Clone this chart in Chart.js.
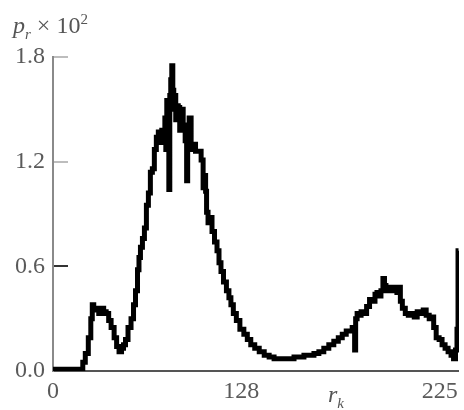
<!DOCTYPE html>
<html>
<head>
<meta charset="utf-8">
<script src="https://cdn.jsdelivr.net/npm/chart.js@4/dist/chart.umd.min.js"></script>
<style>
  html, body { margin: 0; padding: 0; background: #fff; }
  #wrap { position: relative; width: 464px; height: 410px; }
  canvas { position: absolute; left: 0; top: 0; }
  .lbl { position: absolute; font-family: 'Liberation Serif', serif; font-size: 24px; line-height: 24px; color: #555; white-space: nowrap; }
  .lbl sub, .lbl sup { font-size: 15px; line-height: 0; }
</style>
</head>
<body>
<div id="wrap">
  <canvas id="hist" width="464" height="410"></canvas>
  <div class="lbl" style="left:13px; top:13px;"><i>p</i><sub><i>r</i></sub> &times; 10<sup>2</sup></div>
  <div class="lbl" style="left:328px; top:382px;"><i>r</i><sub><i>k</i></sub></div>
</div>
<script>
// intensity level r_k (read against the 0 and 128 tick positions)
const rk = [
  0, 19.6, 20.9, 23.0, 25.0, 26.4, 27.0, 28.4, 30.4, 31.8, 33.8, 35.1, 37.2, 38.5, 40.5, 42.6,
  43.9, 45.9, 47.3, 48.6, 50.0, 52.0, 54.1, 55.4, 56.8, 58.1, 58.8, 60.1, 61.5, 62.8, 64.2, 65.5,
  66.9, 68.2, 69.6, 70.9, 72.3, 73.6, 74.3, 75.7, 76.4, 77.0, 77.7, 78.4, 79.1, 79.7, 80.4, 81.1,
  81.8, 82.4, 83.1, 83.8, 84.5, 85.8, 86.5, 87.8, 89.2, 90.5, 91.2, 91.9, 93.2, 94.6, 95.9, 97.9,
  100.0, 101.4, 102.7, 103.4, 104.1, 104.7, 106.1, 107.4, 108.8, 110.8, 112.2, 113.5, 114.9, 116.9, 118.9, 120.3,
  121.6, 123.6, 125.7, 128.4, 131.1, 133.1, 135.8, 138.5, 141.9, 145.3, 148.6, 152.0, 155.4, 158.8, 162.2, 165.5,
  168.9, 172.3, 175.7, 179.1, 182.4, 185.8, 189.2, 192.6, 195.3, 198.0, 200.7, 202.7, 204.1, 204.7, 205.4, 206.1,
  207.4, 208.8, 210.1, 212.2, 214.2, 216.2, 218.2, 219.6, 220.9, 222.3, 223.6, 225.0, 225.7, 227.0, 229.1, 231.1,
  233.1, 234.5, 235.8, 236.5, 238.5, 240.5, 242.6, 244.6, 246.6, 248.6, 250.7, 252.7, 254.7, 256.8, 258.1, 259.5,
  261.5, 263.5, 265.5, 267.6, 269.6, 271.6, 273.0, 274.3, 275.0, 275.7
];
// p_r x 10^2
const pr = [
  0.01, 0.01, 0.05, 0.10, 0.19, 0.30, 0.38, 0.35, 0.36, 0.33, 0.36, 0.34, 0.33, 0.29, 0.25, 0.19,
  0.14, 0.11, 0.13, 0.15, 0.18, 0.25, 0.30, 0.38, 0.46, 0.58, 0.65, 0.71, 0.76, 0.82, 0.95, 1.02,
  1.14, 1.16, 1.27, 1.34, 1.37, 1.31, 1.38, 1.32, 1.45, 1.27, 1.55, 1.41, 1.04, 1.58, 1.67, 1.75,
  1.61, 1.50, 1.58, 1.44, 1.52, 1.51, 1.38, 1.50, 1.41, 1.32, 1.09, 1.38, 1.45, 1.27, 1.30, 1.26,
  1.26, 1.21, 1.05, 1.12, 1.03, 0.91, 0.85, 0.88, 0.80, 0.74, 0.69, 0.62, 0.57, 0.51, 0.46, 0.42,
  0.38, 0.33, 0.29, 0.24, 0.21, 0.18, 0.15, 0.13, 0.11, 0.09, 0.08, 0.07, 0.07, 0.07, 0.07, 0.08,
  0.08, 0.09, 0.09, 0.10, 0.11, 0.13, 0.15, 0.17, 0.19, 0.21, 0.23, 0.23, 0.25, 0.23, 0.12, 0.30,
  0.33, 0.32, 0.34, 0.33, 0.37, 0.41, 0.40, 0.44, 0.45, 0.43, 0.46, 0.53, 0.49, 0.46, 0.48, 0.46,
  0.48, 0.45, 0.48, 0.40, 0.36, 0.33, 0.32, 0.33, 0.31, 0.34, 0.33, 0.35, 0.32, 0.30, 0.31, 0.25,
  0.19, 0.18, 0.15, 0.13, 0.11, 0.09, 0.07, 0.12, 0.24, 0.69
];

const xTickValues = [0, 128, 263];
const xTickLabels = ['0', '128', '225'];
const yTickValues = [0, 0.6, 1.2, 1.8];

const tickFont = { family: 'Liberation Serif', size: 24 };

new Chart(document.getElementById('hist'), {
    type: 'line',
    data: {
        datasets: [{
            data: rk.map((x, i) => ({ x: x, y: pr[i] })),
            borderColor: '#000',
            borderWidth: 5,
            pointRadius: 0,
            stepped: 'middle',
            borderJoinStyle: 'miter'
        }]
    },
    options: {
        responsive: false,
        animation: false,
        devicePixelRatio: 1,
        layout: { padding: { top: 57, right: 3, left: 0, bottom: 0 } },
        plugins: { legend: { display: false }, tooltip: { enabled: false } },
        scales: {
            x: {
                type: 'linear',
                min: 0,
                max: 276,
                afterBuildTicks: s => { s.ticks = xTickValues.map(v => ({ value: v })); },
                afterFit: s => { s.height = 39; },
                ticks: {
                    autoSkip: false,
                    maxRotation: 0,
                    padding: 6,
                    color: '#5a5a5a',
                    font: tickFont,
                    callback: (v) => xTickLabels[xTickValues.indexOf(v)]
                },
                grid: { display: false, drawTicks: false },
                border: { display: true, color: '#555', width: 2 }
            },
            y: {
                min: 0,
                max: 1.8,
                afterBuildTicks: s => { s.ticks = yTickValues.map(v => ({ value: v })); },
                afterFit: s => { s.width = 53; },
                ticks: {
                    padding: 23,
                    color: '#5a5a5a',
                    font: tickFont,
                    callback: (v) => v.toFixed(1)
                },
                grid: {
                    drawOnChartArea: false,
                    drawTicks: true,
                    tickLength: -15,
                    lineWidth: 2,
                    color: ctx => (ctx.tick && ctx.tick.value > 1) ? '#bdbdbd' : '#333'
                },
                border: { display: true, color: '#8a8a8a', width: 2 }
            }
        }
    }
});
</script>
</body>
</html>
